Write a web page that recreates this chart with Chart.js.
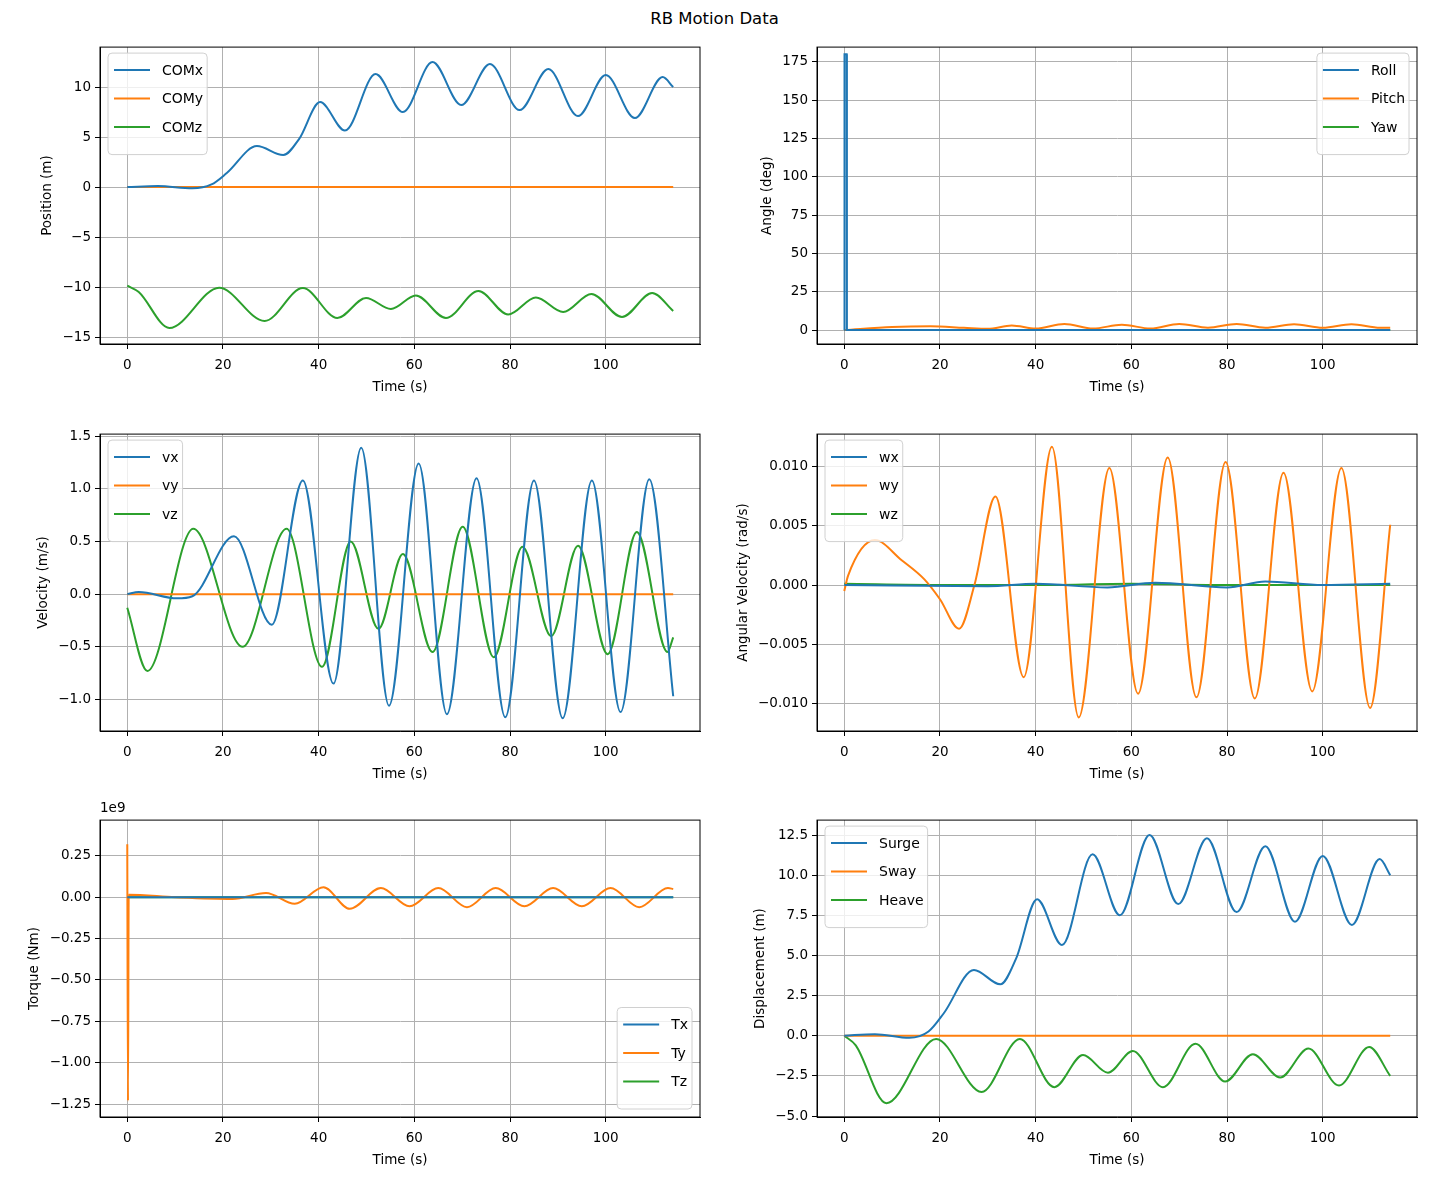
<!DOCTYPE html>
<html>
<head>
<meta charset="utf-8">
<script src="https://cdn.jsdelivr.net/npm/chart.js@4.4.1/dist/chart.umd.min.js"></script>
<style>
  body { margin: 0; background: #fff; width: 1429px; height: 1184px; position: relative; overflow: hidden; font-family: "DejaVu Sans", sans-serif; }
  #title { position: absolute; top: 9px; left: 0; width: 1429px; text-align: center; font-size: 16.5px; }
  #offset { position: absolute; left: 100px; top: 799px; font-size: 13.5px; }
  .box { position: absolute; width: 712px; height: 365px; }
</style>
</head>
<body>
<div id="title">RB Motion Data</div>
<div class="box" style="left:0;top:35px"><canvas id="c1"></canvas></div>
<div class="box" style="left:717px;top:35px"><canvas id="c2"></canvas></div>
<div class="box" style="left:0;top:422px"><canvas id="c3"></canvas></div>
<div class="box" style="left:717px;top:422px"><canvas id="c4"></canvas></div>
<div class="box" style="left:0;top:808px"><canvas id="c5"></canvas></div>
<div class="box" style="left:717px;top:808px"><canvas id="c6"></canvas></div>
<div id="offset">1e9</div>
<script>
// data (time in s)
const comxT = [0, 6.4, 13.6, 17.6, 20.8, 27.1, 32.6, 35.9, 40.3, 45.5, 51.9, 57.6, 63.8, 69.8, 75.8, 82, 88, 94.2, 100, 106.1, 111.9, 114.1];
const comxV = [0, 0.1, -0.13, 0.26, 1.4, 4.1, 3.2, 4.8, 8.5, 5.65, 11.3, 7.5, 12.5, 8.2, 12.3, 7.7, 11.8, 7.1, 11.2, 6.9, 11, 10];
const comzT = [0, 2.4, 8.8, 19.2, 28.7, 36.7, 43.9, 49.9, 55.1, 60.3, 66.6, 73.4, 79.6, 85.4, 91.1, 97, 103.4, 109.7, 114.1];
const comzV = [-9.87, -10.5, -14.1, -10.07, -13.4, -10.1, -13.1, -11.1, -12.2, -10.85, -13.1, -10.4, -12.75, -11.05, -12.5, -10.7, -13, -10.6, -12.4];
const heaveV = [0, -0.6, -4.2, -0.2, -3.5, -0.2, -3.2, -1.2, -2.3, -0.95, -3.2, -0.5, -2.85, -1.15, -2.6, -0.8, -3.1, -0.7, -2.5];
const flatT = [0, 114.1];
const flatV = [0, 0];

const rollT = [0, 0.05, 0.5, 0.55, 114.1];
const rollV = [0, 180, 180, 0, 0];
const pitchT = [0, 10, 18, 25, 30, 35, 40, 46, 52, 58, 64, 70, 76, 82, 88, 94, 100, 106, 112, 114.1];
const pitchV = [0, 2, 2.5, 1.5, 0.8, 3, 1, 4, 1, 3.5, 1, 4, 1.5, 4, 1.5, 3.8, 1.5, 3.8, 1.5, 1.5];

const vxT = [0, 2.4, 10.4, 13.6, 22.3, 30.2, 36.7, 43.1, 48.9, 54.7, 60.9, 66.8, 73, 79, 85, 91, 97.1, 103.1, 109.1, 114.1];
const vxV = [0, 0.02, -0.04, -0.02, 0.55, -0.29, 1.08, -0.85, 1.39, -1.06, 1.24, -1.14, 1.1, -1.17, 1.08, -1.18, 1.08, -1.12, 1.09, -0.97];
const vzT = [0, 4.2, 13.8, 24.1, 33.3, 40.7, 46.7, 52.5, 57.6, 63.8, 70.1, 76.6, 82.6, 88.6, 94.2, 100.4, 106.5, 112.9, 114.1];
const vzV = [-0.13, -0.73, 0.62, -0.5, 0.62, -0.69, 0.5, -0.33, 0.38, -0.55, 0.64, -0.6, 0.45, -0.4, 0.46, -0.57, 0.59, -0.55, -0.41];

const wyT = [0, 0.8, 6.4, 12, 16.7, 20, 24, 27.2, 31.6, 37.5, 43.4, 49, 55.4, 61.4, 67.6, 73.6, 79.7, 85.8, 91.8, 97.8, 103.9, 109.9, 114.1];
const wyV = [-0.0005, 0.0008, 0.0038, 0.0021, 0.0005, -0.0012, -0.0037, 0, 0.0075, -0.0078, 0.0117, -0.0112, 0.0099, -0.0092, 0.0108, -0.0095, 0.0104, -0.0096, 0.0095, -0.009, 0.0099, -0.0104, 0.0051];
const wxT = [0, 30, 40, 55, 65, 80, 88, 100, 114.1];
const wxV = [0, -0.0001, 0.0001, -0.0002, 0.0002, -0.0002, 0.0003, 0, 0.0001];
const wzT = [0, 20, 40, 60, 80, 114.1];
const wzV = [0.0001, 0, 0, 0.0001, 0, 0];

// torque in units of 1e9 Nm
const tyT = [0, 0.15, 0.3, 10, 22, 29, 35, 41, 46.5, 53, 59, 65, 71, 77, 83, 89, 95, 101, 107, 113, 114.1];
const tyV = [0.32, -1.23, 0.015, 0, -0.01, 0.025, -0.04, 0.06, -0.07, 0.055, -0.055, 0.055, -0.06, 0.055, -0.055, 0.055, -0.055, 0.055, -0.06, 0.055, 0.05];

const BLUE = '#1f77b4', ORANGE = '#ff7f0e', GREEN = '#2ca02c';
const FONT = '13.5px "DejaVu Sans"';

function pts(t, v) { return t.map((x, i) => ({ x: x, y: v[i] })); }
function ds(label, t, v, color, smooth) {
  return { label: label, data: pts(t, v), borderColor: color, backgroundColor: color,
    borderWidth: 2, pointRadius: 0, fill: false,
    cubicInterpolationMode: smooth === false ? 'default' : 'monotone', tension: 0 };
}
function fmt(dec) {
  return v => (v < 0 ? '\u2212' : '') + Math.abs(v).toFixed(dec);
}

// matplotlib-like legend inside the axes, plus y label next to the tick labels
const decor = {
  id: 'decor',
  afterDraw(chart, args, o) {
    const ctx = chart.ctx, a = chart.chartArea;
    const items = chart.data.datasets;
    ctx.save();
    ctx.font = '14px "DejaVu Sans"';
    const tw = Math.max(...items.map(d => ctx.measureText(d.label).width));
    const w = 58 + tw, rowH = 28.5, h = items.length * rowH + 16;
    let x = o.pos.includes('right') ? a.right - 8 - w : a.left + 8;
    let y = o.pos.includes('lower') ? a.bottom - 8 - h : a.top + 6;
    ctx.fillStyle = 'rgba(255,255,255,0.8)';
    ctx.strokeStyle = '#d0d0d0';
    ctx.lineWidth = 1;
    ctx.beginPath();
    ctx.roundRect(x, y, w, h, 4);
    ctx.fill(); ctx.stroke();
    items.forEach((d, i) => {
      const cy = y + 17 + i * rowH;
      ctx.strokeStyle = d.borderColor; ctx.lineWidth = 2;
      ctx.beginPath(); ctx.moveTo(x + 6, cy); ctx.lineTo(x + 42, cy); ctx.stroke();
      ctx.fillStyle = '#000'; ctx.textBaseline = 'middle';
      ctx.fillText(d.label, x + 54, cy + 1);
    });
    // y axis title
    const ys = chart.scales.y;
    ctx.font = FONT;
    const lw = Math.max(...ys.ticks.map(t => ctx.measureText(t.label).width));
    const cx = a.left - 9 - lw - 15;
    ctx.translate(cx, (a.top + a.bottom) / 2);
    ctx.rotate(-Math.PI / 2);
    ctx.textAlign = 'center'; ctx.textBaseline = 'middle';
    ctx.fillText(o.ylab, 0, 0);
    ctx.restore();
  }
};

function makeChart(id, datasets, ylab, ymin, ymax, yticks, dec, legendPos) {
  const font = { family: '"DejaVu Sans"', size: 13.5 };
  return new Chart(document.getElementById(id), {
    type: 'line',
    data: { datasets: datasets },
    options: {
      responsive: true, maintainAspectRatio: false, animation: false,
      layout: { padding: { top: 10, right: 12, left: 0, bottom: 0 } },
      plugins: { legend: { display: false }, tooltip: { enabled: false },
        decor: { pos: legendPos, ylab: ylab } },
      scales: {
        x: {
          type: 'linear', min: -5.7, max: 119.7,
          afterBuildTicks: s => { s.ticks = [0, 20, 40, 60, 80, 100].map(v => ({ value: v })); },
          afterFit: s => { s.height = 56; },
          ticks: { font: font, color: '#000', callback: v => String(v), maxRotation: 0, padding: 8 },
          grid: { color: '#b0b0b0', tickColor: '#000', tickLength: 5 },
          border: { color: '#000', width: 1 },
          title: { display: true, text: 'Time (s)', font: font, color: '#000', padding: { top: 0 } }
        },
        y: {
          min: ymin, max: ymax,
          afterBuildTicks: s => { s.ticks = yticks.map(v => ({ value: v })); },
          afterFit: s => { s.width = 100; },
          ticks: { font: font, color: '#000', callback: fmt(dec), padding: 4 },
          grid: { color: '#b0b0b0', tickColor: '#000', tickLength: 5 },
          border: { color: '#000', width: 1 }
        }
      }
    },
    plugins: [decor, {
      id: 'frame',
      afterDraw(chart) {
        const c = chart.ctx, a = chart.chartArea;
        c.save(); c.strokeStyle = '#000'; c.lineWidth = 1;
        c.strokeRect(a.left, a.top, a.right - a.left, a.bottom - a.top);
        c.restore();
      }
    }]
  });
}

makeChart('c1', [
  ds('COMx', comxT, comxV, BLUE),
  ds('COMy', flatT, flatV, ORANGE),
  ds('COMz', comzT, comzV, GREEN)
], 'Position (m)', -15.7, 14, [-15, -10, -5, 0, 5, 10], 0, 'upper left');

makeChart('c2', [
  ds('Roll', rollT, rollV, BLUE, false),
  ds('Pitch', pitchT, pitchV, ORANGE),
  ds('Yaw', flatT, flatV, GREEN)
], 'Angle (deg)', -9.1, 184.7, [0, 25, 50, 75, 100, 125, 150, 175], 0, 'upper right');

makeChart('c3', [
  ds('vx', vxT, vxV, BLUE),
  ds('vy', flatT, flatV, ORANGE),
  ds('vz', vzT, vzV, GREEN)
], 'Velocity (m/s)', -1.30, 1.52, [-1, -0.5, 0, 0.5, 1, 1.5], 1, 'upper left');

makeChart('c4', [
  ds('wx', wxT, wxV, BLUE),
  ds('wy', wyT, wyV, ORANGE),
  ds('wz', wzT, wzV, GREEN)
], 'Angular Velocity (rad/s)', -0.01235, 0.01277, [-0.01, -0.005, 0, 0.005, 0.01], 3, 'upper left');

makeChart('c5', [
  ds('Tx', flatT, flatV, BLUE),
  ds('Ty', tyT, tyV, ORANGE),
  ds('Tz', flatT, flatV, GREEN)
], 'Torque (Nm)', -1.328, 0.466, [-1.25, -1, -0.75, -0.5, -0.25, 0, 0.25], 2, 'lower right');

makeChart('c6', [
  ds('Surge', comxT, comxV, BLUE),
  ds('Sway', flatT, flatV, ORANGE),
  ds('Heave', comzT, heaveV, GREEN)
], 'Displacement (m)', -5.06, 13.43, [-5, -2.5, 0, 2.5, 5, 7.5, 10, 12.5], 1, 'upper left');
</script>
</body>
</html>
